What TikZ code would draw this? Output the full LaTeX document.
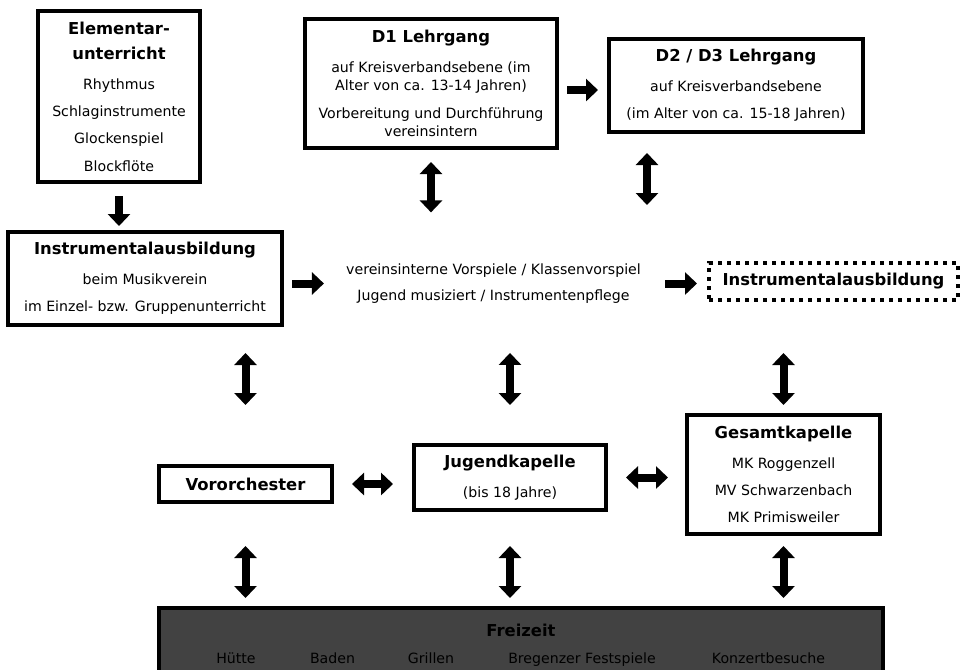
\documentclass[tikz,border=0pt]{standalone}
\usepackage{fontspec}
\setmainfont{DejaVu Sans}
\usepackage{xcolor}
\usetikzlibrary{arrows.meta}

\definecolor{fzgrey}{HTML}{424242}
\newcommand{\bodyfont}{\fontsize{10.6pt}{20.5pt}\selectfont}
\newcommand{\ttl}[1]{{\bfseries\fontsize{12.3pt}{15pt}\selectfont #1}}

\begin{document}
\begin{tikzpicture}[
        x = 0.75pt, y = -0.75pt,
        >= {Triangle[width=16.5pt, length=9pt]},
        box/.style = {draw=black, line width=3pt, rectangle, align=center, inner sep=0pt, font=\bodyfont},
        dotbox/.style = {box, dash pattern=on 3pt off 3.75pt},
        plain/.style = {align=center, inner sep=0pt, font=\bodyfont},
        bigarrow/.style = {->, line width=6pt},
        bigboth/.style = {<->, line width=6pt}]
        \path[use as bounding box, fill=white] (0,0) rectangle (969,669);
        \clip (0,0) rectangle (969,669);
        % NODES
        % elementary lessons
        \node[box, minimum width=121.5pt, minimum height=128.25pt] (elem) at (119,96.5)
            {\ttl{Elementar-}\\[-1.75pt]\ttl{unterricht}\\[2pt]Rhythmus\\Schlaginstrumente\\Glockenspiel\\Blockflöte};
        % D1 course
        \node[box, minimum width=189pt, minimum height=96.75pt] (d1) at (431,83.5)
            {\ttl{D1 Lehrgang}\\[2pt]auf Kreisverbandsebene (im\\[-6.8pt]Alter von ca. 13-14 Jahren)\\Vorbereitung und Durchführung\\[-6.8pt]vereinsintern};
        % D2 / D3 course
        \node[box, minimum width=190.5pt, minimum height=69.75pt] (d2) at (736,85.5)
            {\ttl{D2 / D3 Lehrgang}\\[2pt]auf Kreisverbandsebene\\(im Alter von ca. 15-18 Jahren)};
        % instrument lessons
        \node[box, minimum width=205.5pt, minimum height=69.75pt] (instr) at (145,278.5)
            {\ttl{Instrumentalausbildung}\\[2pt]beim Musikverein\\im Einzel- bzw. Gruppenunterricht};
        % middle text
        \node[plain] (mid) at (493.5,283.5)
            {vereinsinterne Vorspiele / Klassenvorspiel\\[-0.5pt]Jugend musiziert / Instrumentenpflege};
        % dotted box
        \node[dotbox, minimum width=186.75pt, minimum height=27.75pt] (dash) at (833.5,281.5)
            {\ttl{Instrumentalausbildung}};
        % pre-orchestra
        \node[box, minimum width=129.75pt, minimum height=27pt] (vor) at (245.5,484)
            {\ttl{Vororchester}};
        % youth band
        \node[box, minimum width=144pt, minimum height=48.75pt] (jug) at (510,477.5)
            {\ttl{Jugendkapelle}\\[2pt](bis 18 Jahre)};
        % full band
        \node[box, minimum width=144.75pt, minimum height=89.25pt] (ges) at (783.5,474.5)
            {\ttl{Gesamtkapelle}\\[2pt]MK Roggenzell\\MV Schwarzenbach\\MK Primisweiler};
        % leisure
        \node[box, fill=fzgrey, minimum width=543pt, minimum height=48pt] (frei) at (521,640) {};
        \node[plain] (freititle) at (521,630) {\ttl{Freizeit}};
        \foreach \x/\t [count=\i] in {236/Hütte, 332.5/Baden, 431/Grillen, 582/Bregenzer Festspiele, 768.5/Konzertbesuche}
            \node[plain, anchor=base] (fz\i) at (\x,663) {\t};
        \coordinate (d1r) at ([yshift=-4.9pt]d1.east);
        \coordinate (d2l) at ([xshift=-66.75pt]d2.south);

        % ARROWS
        \draw[bigarrow, shorten <=9pt, shorten >=3pt] (elem.south) -- (elem.south |- instr.north);
        \draw[bigarrow, shorten <=6pt, shorten >=16.5pt] (mid.west -| instr.east) -- (mid.west);
        \draw[bigarrow, shorten <=6pt, shorten >=6.75pt] (d1r) -- (d1r -| d2.west);
        \draw[bigarrow, shorten <=18pt, shorten >=7.5pt] (mid.east) -- (mid.east -| dash.west);
        \draw[bigboth, shorten <=9pt, shorten >=38pt] (d1.south) -- (d1.south |- mid.north);
        \draw[bigboth, shorten <=14.25pt, shorten >=42pt] (d2l) -- (d2l |- dash.north);
        \draw[bigboth, shorten <=19.5pt, shorten >=44.25pt] (instr.south -| vor.north) -- (vor.north);
        \draw[bigboth, shorten <=36.75pt, shorten >=28.5pt] (mid.south -| jug.north) -- (jug.north);
        \draw[bigboth, shorten <=38.25pt, shorten >=6pt] (dash.south -| ges.north) -- (ges.north);
        \draw[bigboth, shorten <=13.5pt, shorten >=14.25pt] (vor.east) -- (vor.east -| jug.west);
        \draw[bigboth, shorten <=13.5pt, shorten >=12.75pt] (jug.east) -- (jug.east -| ges.west);
        \draw[bigboth, shorten <=31.5pt, shorten >=6pt] (vor.south) -- (vor.south |- frei.north);
        \draw[bigboth, shorten <=25.5pt, shorten >=6pt] (jug.south) -- (jug.south |- frei.north);
        \draw[bigboth, shorten <=7.5pt, shorten >=6pt] (ges.south) -- (ges.south |- frei.north);
    \end{tikzpicture}
\end{document}
